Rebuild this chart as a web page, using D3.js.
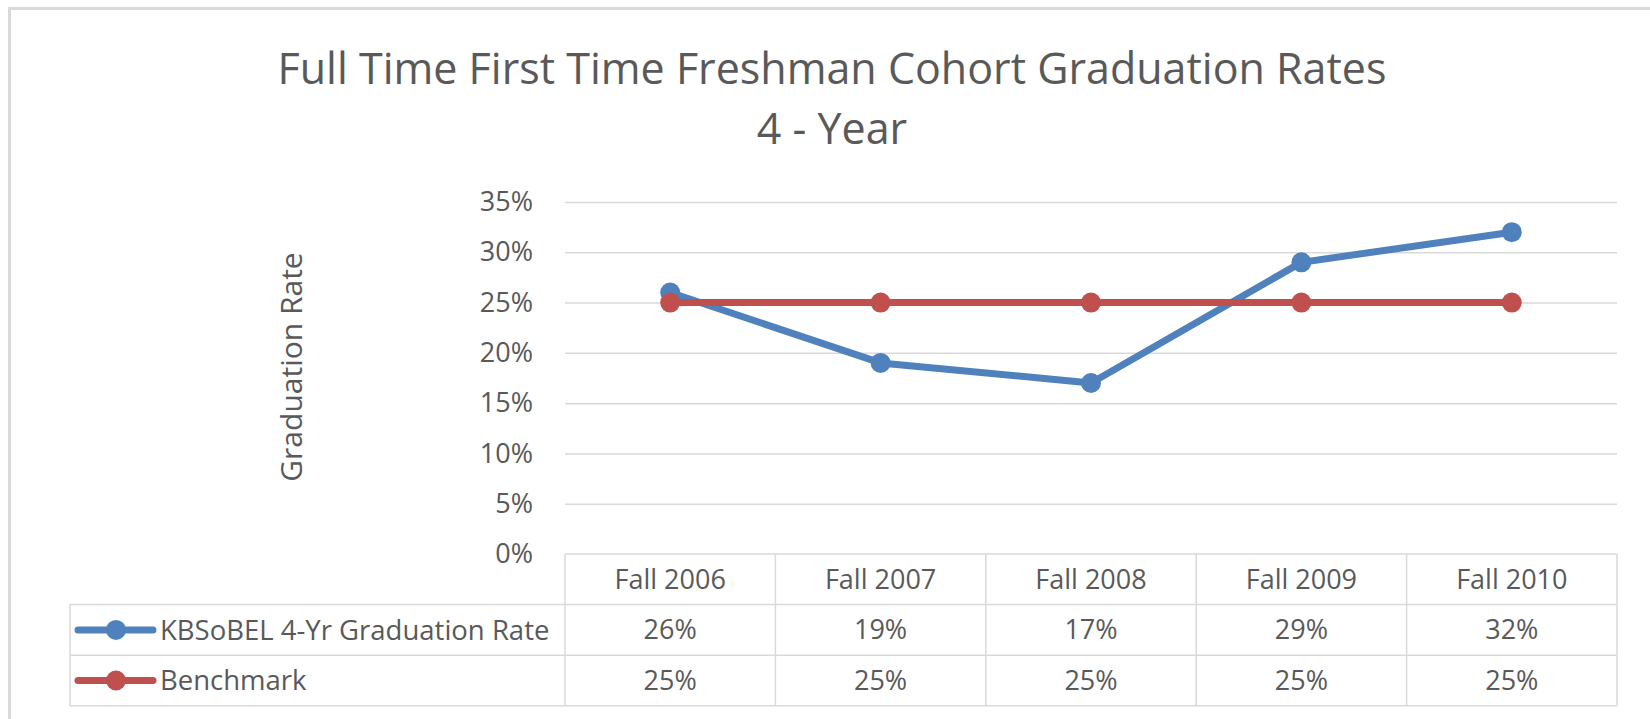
<!DOCTYPE html>
<html>
<head>
<meta charset="utf-8">
<script src="https://cdn.jsdelivr.net/npm/d3@7"></script>
<style>
  body { margin: 0; background: #fff; }
  text { font-family: "Open Sans", sans-serif; fill: #595959; }
</style>
</head>
<body>
<svg id="chart"></svg>
<script>
const categories = ["Fall 2006", "Fall 2007", "Fall 2008", "Fall 2009", "Fall 2010"];
const gradRate = [0.26, 0.19, 0.17, 0.29, 0.32];
const benchmark = [0.25, 0.25, 0.25, 0.25, 0.25];
const yTicks = [0, 0.05, 0.10, 0.15, 0.20, 0.25, 0.30, 0.35];
const seriesNames = ["KBSoBEL 4-Yr Graduation Rate", "Benchmark"];
const titleLines = ["Full Time First Time Freshman Cohort Graduation Rates", "4 - Year"];

const width = 1650;
const height = 719;
const margin = {top: 202, right: 33, bottom: 165, left: 565};
const rowH = 50.6;
const tableLeft = 70;
const colors = ["#4f81bd", "#c0504d"];
const grid = "#d9d9d9";

const series = [gradRate, benchmark].map((values, i) => ({
  name: seriesNames[i],
  color: colors[i],
  values: values.map((v, j) => ({cat: categories[j], v}))
}));

const svg = d3.select("#chart")
    .attr("width", width)
    .attr("height", height)
    .attr("viewBox", [0, 0, width, height]);

// outer frame (only top and left are in view)
svg.append("rect")
    .attr("x", 9.5).attr("y", 8.5)
    .attr("width", width + 20).attr("height", height + 20)
    .attr("fill", "none")
    .attr("stroke", grid)
    .attr("stroke-width", 3);

const x = d3.scaleBand()
    .domain(categories)
    .range([margin.left, width - margin.right]);

const y = d3.scaleLinear()
    .domain([0, 0.35])
    .range([height - margin.bottom, margin.top]);

// title
svg.append("g").selectAll("text")
  .data(titleLines)
  .join("text")
    .attr("x", 832)
    .attr("y", (d, i) => 84 + i * 60)
    .attr("text-anchor", "middle")
    .attr("font-size", 43)
    .text(d => d);

// gridlines
svg.append("g")
    .attr("transform", `translate(${margin.left},0)`)
    .call(d3.axisLeft(y).tickValues(yTicks.slice(1)).tickSize(-(width - margin.right - margin.left)).tickFormat(""))
    .call(g => g.select(".domain").remove())
    .call(g => g.selectAll(".tick line").attr("stroke", grid).attr("stroke-width", 1.5));

// y axis labels
svg.append("g")
    .attr("transform", `translate(${margin.left},0)`)
    .call(d3.axisLeft(y).tickValues(yTicks).tickSize(0).tickPadding(32).tickFormat(d3.format(".0%")))
    .call(g => g.select(".domain").remove())
    .call(g => g.selectAll(".tick text")
        .attr("font-family", "Open Sans, sans-serif")
        .attr("font-size", 27)
        .attr("fill", "#595959"));

svg.append("text")
    .attr("transform", `translate(302,367) rotate(-90)`)
    .attr("text-anchor", "middle")
    .attr("font-size", 30)
    .text("Graduation Rate");

// lines
const line = d3.line()
    .x(d => x(d.cat) + x.bandwidth() / 2)
    .y(d => y(d.v));

const sg = svg.append("g").selectAll("g")
  .data(series)
  .join("g");

sg.append("path")
    .attr("fill", "none")
    .attr("stroke", d => d.color)
    .attr("stroke-width", 7)
    .attr("stroke-linejoin", "round")
    .attr("d", d => line(d.values));

sg.selectAll("circle")
  .data(d => d.values.map(p => ({...p, color: d.color})))
  .join("circle")
    .attr("cx", d => x(d.cat) + x.bandwidth() / 2)
    .attr("cy", d => y(d.v))
    .attr("r", 10)
    .attr("fill", d => d.color);

// data table
const top0 = y(0);
const right = width - margin.right;
const table = svg.append("g")
    .attr("stroke", grid)
    .attr("stroke-width", 1.5);

table.append("line")
    .attr("x1", margin.left).attr("x2", right)
    .attr("y1", top0).attr("y2", top0);

table.selectAll(".hrow")
  .data([1, 2, 3])
  .join("line")
    .attr("x1", tableLeft).attr("x2", right)
    .attr("y1", d => top0 + d * rowH).attr("y2", d => top0 + d * rowH);

table.selectAll(".vcol")
  .data(categories.concat([null]))
  .join("line")
    .attr("x1", d => d ? x(d) : right).attr("x2", d => d ? x(d) : right)
    .attr("y1", top0).attr("y2", top0 + 3 * rowH);

table.append("line")
    .attr("x1", tableLeft).attr("x2", tableLeft)
    .attr("y1", top0 + rowH).attr("y2", top0 + 3 * rowH);

// header
svg.append("g").selectAll("text")
  .data(categories)
  .join("text")
    .attr("x", d => x(d) + x.bandwidth() / 2)
    .attr("y", top0 + rowH / 2)
    .attr("dy", "0.35em")
    .attr("text-anchor", "middle")
    .attr("font-size", 27)
    .text(d => d);

// rows
const rows = svg.append("g").selectAll("g")
  .data(series)
  .join("g")
    .attr("transform", (d, i) => `translate(0,${top0 + rowH * (i + 1.5)})`);

rows.selectAll("text.val")
  .data(d => d.values)
  .join("text")
    .attr("class", "val")
    .attr("x", d => x(d.cat) + x.bandwidth() / 2)
    .attr("dy", "0.35em")
    .attr("text-anchor", "middle")
    .attr("font-size", 27)
    .text(d => d3.format(".0%")(d.v));

rows.append("line")
    .attr("x1", 78).attr("x2", 153)
    .attr("stroke", d => d.color)
    .attr("stroke-width", 7)
    .attr("stroke-linecap", "round");

rows.append("circle")
    .attr("cx", 116)
    .attr("r", 10)
    .attr("fill", d => d.color);

rows.append("text")
    .attr("x", 160)
    .attr("dy", "0.35em")
    .attr("font-size", 27.5)
    .text(d => d.name);
</script>
</body>
</html>
